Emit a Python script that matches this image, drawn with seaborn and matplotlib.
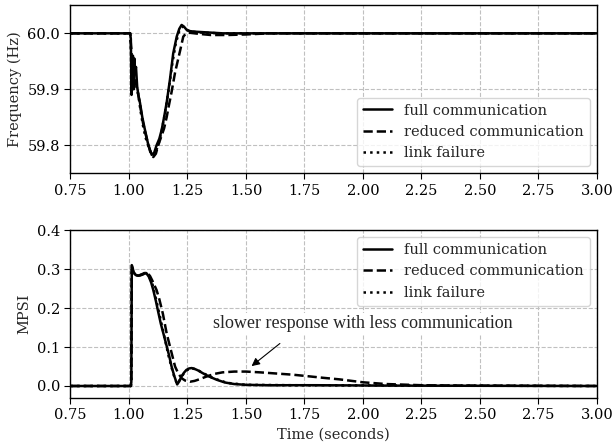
import numpy as np
import pandas as pd
import matplotlib
matplotlib.use("Agg")
import matplotlib.pyplot as plt
import seaborn as sns

# ---- frequency response (Hz) ----
t_freq_full = [0.75, 1.005, 1.008, 1.011, 1.014, 1.017, 1.020, 1.023, 1.026, 1.030,
               1.035, 1.040, 1.047, 1.057, 1.068, 1.083, 1.097, 1.108, 1.118, 1.130,
               1.140, 1.150, 1.161, 1.175, 1.189, 1.204, 1.215, 1.225, 1.235, 1.247,
               1.260, 1.280, 1.320, 1.400, 3.0]
f_full = [60.0, 60.0, 59.99, 59.89, 59.95, 59.96, 59.90, 59.955, 59.93, 59.94,
          59.905, 59.89, 59.876, 59.85, 59.828, 59.80, 59.783, 59.787, 59.80, 59.812,
          59.828, 59.85, 59.876, 59.917, 59.964, 59.994, 60.008, 60.015, 60.012, 60.006,
          60.004, 60.003, 60.002, 60.0, 60.0]

t_freq_reduced = [0.75, 1.005, 1.010, 1.015, 1.020, 1.030, 1.040, 1.050, 1.060, 1.070,
                  1.080, 1.090, 1.104, 1.115, 1.125, 1.140, 1.150, 1.161, 1.170, 1.182,
                  1.197, 1.208, 1.218, 1.232, 1.244, 1.260, 1.280, 1.300, 1.350, 1.420,
                  1.500, 1.600, 3.0]
f_reduced = [60.0, 60.0, 59.97, 59.93, 59.92, 59.91, 59.89, 59.865, 59.84, 59.822,
             59.805, 59.79, 59.779, 59.785, 59.80, 59.818, 59.83, 59.85, 59.87, 59.895,
             59.93, 59.95, 59.968, 59.994, 60.0, 60.001, 60.0, 59.999, 59.997, 59.997,
             59.998, 60.0, 60.0]

t_freq_link = [0.75, 1.005, 1.010, 1.015, 1.020, 1.030, 1.040, 1.050, 1.060, 1.070,
               1.085, 1.100, 1.112, 1.125, 1.140, 1.155, 1.170, 1.185, 1.200, 1.215,
               1.230, 1.245, 1.270, 1.320, 1.400, 3.0]
f_link = [60.0, 60.0, 59.96, 59.93, 59.92, 59.91, 59.89, 59.86, 59.835, 59.815,
          59.795, 59.781, 59.786, 59.80, 59.826, 59.86, 59.9, 59.945, 59.982, 60.004,
          60.012, 60.006, 60.003, 60.001, 60.0, 60.0]

# ---- MPSI ----
t_mpsi_full = [0.75, 1.008, 1.010, 1.012, 1.015, 1.020, 1.030, 1.040, 1.050, 1.060,
               1.068, 1.076, 1.085, 1.095, 1.104, 1.115, 1.125, 1.136, 1.147, 1.160,
               1.172, 1.182, 1.194, 1.206, 1.215, 1.225, 1.235, 1.245, 1.257, 1.268,
               1.280, 1.295, 1.315, 1.340, 1.375, 1.410, 1.450, 1.500, 1.600, 1.800,
               2.100, 3.0]
m_full = [0.0, 0.0, 0.01, 0.31, 0.305, 0.292, 0.284, 0.283, 0.284, 0.286,
          0.289, 0.288, 0.28, 0.265, 0.246, 0.218, 0.19, 0.16, 0.135, 0.105,
          0.077, 0.05, 0.025, 0.004, 0.012, 0.025, 0.034, 0.041, 0.045, 0.046,
          0.044, 0.04, 0.033, 0.025, 0.016, 0.009, 0.005, 0.003, 0.002, 0.002,
          0.001, 0.0]

t_mpsi_reduced = [0.75, 1.008, 1.010, 1.012, 1.015, 1.020, 1.030, 1.040, 1.050, 1.060,
                  1.070, 1.080, 1.090, 1.100, 1.118, 1.130, 1.145, 1.161, 1.180, 1.197,
                  1.210, 1.225, 1.240, 1.261, 1.280, 1.300, 1.330, 1.365, 1.400, 1.450,
                  1.500, 1.560, 1.630, 1.700, 1.750, 1.830, 1.900, 2.000, 2.100, 2.250,
                  2.400, 3.0]
m_reduced = [0.0, 0.0, 0.01, 0.30, 0.298, 0.29, 0.284, 0.283, 0.285, 0.288,
             0.291, 0.289, 0.282, 0.27, 0.246, 0.222, 0.185, 0.135, 0.09, 0.05,
             0.033, 0.02, 0.014, 0.011, 0.013, 0.017, 0.024, 0.031, 0.035, 0.037,
             0.037, 0.035, 0.032, 0.029, 0.026, 0.021, 0.017, 0.0095, 0.005, 0.002,
             0.001, 0.0]

t_mpsi_link = [0.75, 1.008, 1.010, 1.012, 1.015, 1.020, 1.030, 1.045, 1.060, 1.072,
               1.085, 1.100, 1.115, 1.130, 1.150, 1.170, 1.190, 1.205, 1.220, 1.240,
               1.265, 1.290, 1.320, 1.360, 1.420, 1.500, 1.700, 3.0]
m_link = [0.0, 0.0, 0.01, 0.305, 0.30, 0.29, 0.284, 0.284, 0.287, 0.29,
          0.283, 0.262, 0.225, 0.185, 0.13, 0.075, 0.03, 0.006, 0.018, 0.038,
          0.046, 0.042, 0.032, 0.02, 0.008, 0.003, 0.002, 0.0]

labels = ["full communication", "reduced communication", "link failure"]
styles = ["-", "--", ":"]

freq_df = pd.concat([
    pd.DataFrame({"t": t_freq_full, "v": f_full, "case": labels[0]}),
    pd.DataFrame({"t": t_freq_reduced, "v": f_reduced, "case": labels[1]}),
    pd.DataFrame({"t": t_freq_link, "v": f_link, "case": labels[2]}),
])
mpsi_df = pd.concat([
    pd.DataFrame({"t": t_mpsi_full, "v": m_full, "case": labels[0]}),
    pd.DataFrame({"t": t_mpsi_reduced, "v": m_reduced, "case": labels[1]}),
    pd.DataFrame({"t": t_mpsi_link, "v": m_link, "case": labels[2]}),
])

sns.set_theme(style="ticks")
plt.rcParams["font.family"] = ["DejaVu Serif"]
plt.rcParams["font.size"] = 10.5
plt.rcParams["axes.edgecolor"] = "black"
plt.rcParams["xtick.color"] = "black"
plt.rcParams["ytick.color"] = "black"

fig = plt.figure(figsize=(6.15, 4.45), dpi=100)
ax1 = fig.add_axes([0.1146, 0.6106, 0.856, 0.3774])
ax2 = fig.add_axes([0.1146, 0.1063, 0.856, 0.3768])


def draw(ax, df):
    for lab, ls in zip(labels, styles):
        sub = df[df["case"] == lab]
        sns.lineplot(data=sub, x="t", y="v", ax=ax, color="black", lw=1.8,
                     linestyle=ls, label=lab, sort=False, estimator=None)
    ax.grid(True, linestyle="--", color="#c0c0c0", lw=0.8)
    ax.set_axisbelow(True)
    ax.set_xlim(0.75, 3.0)
    ax.set_xticks([0.75, 1.0, 1.25, 1.5, 1.75, 2.0, 2.25, 2.5, 2.75, 3.0])
    ax.set_xticklabels(["%.2f" % v for v in ax.get_xticks()])
    ax.tick_params(labelsize=10.5, length=4, width=0.8)
    for sp in ax.spines.values():
        sp.set_linewidth(1.0)
        sp.set_color("black")


draw(ax1, freq_df)
ax1.set_ylim(59.75, 60.05)
ax1.set_yticks([59.8, 59.9, 60.0])
ax1.set_yticklabels(["59.8", "59.9", "60.0"])
ax1.set_xlabel("")
ax1.set_ylabel("Frequency (Hz)", fontsize=10.5)
ax1.legend(loc="lower right", fontsize=10.5, handlelength=2.0, framealpha=0.8)

draw(ax2, mpsi_df)
ax2.set_ylim(-0.03, 0.4)
ax2.set_yticks([0.0, 0.1, 0.2, 0.3, 0.4])
ax2.set_yticklabels(["0.0", "0.1", "0.2", "0.3", "0.4"])
ax2.set_xlabel("Time (seconds)", fontsize=10.5)
ax2.set_ylabel("MPSI", fontsize=10.5)
ax2.legend(loc="upper right", fontsize=10.5, handlelength=2.0, framealpha=0.8)

ax2.text(2.0, 0.159, "slower response with less communication",
         family="Liberation Serif", fontsize=13, ha="center", va="center",
         bbox=dict(facecolor="white", edgecolor="none", pad=2), zorder=3)
ax2.annotate("", xy=(1.524, 0.051), xytext=(1.645, 0.109),
             arrowprops=dict(arrowstyle="-|>", color="black", lw=0.8,
                             mutation_scale=12, shrinkA=0, shrinkB=0))

fig.savefig("out.png", dpi=100)
